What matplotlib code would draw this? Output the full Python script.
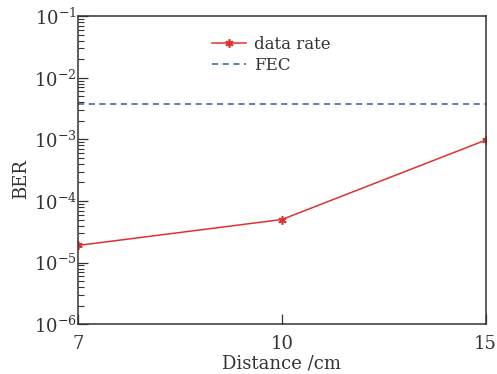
import numpy as np
import matplotlib.pyplot as plt

distance = ['7', '10', '15']
ber = [1.9e-5, 5.0e-5, 9.7e-4]
fec = 3.8e-3

plt.rcParams['font.family'] = 'DejaVu Serif'
plt.rcParams['mathtext.fontset'] = 'dejavuserif'

fig = plt.figure(figsize=(4.97, 3.74), dpi=100)
ax = fig.add_axes([0.157, 0.133, 0.820, 0.824])

x = np.arange(len(distance))
ax.plot(x, ber, color='#e03131', lw=1.1, marker=(6, 2, 0), ms=6, mew=1.2, label='data rate')
ax.axhline(fec, color='#2f5ea8', lw=1.1, ls=(0, (4, 3)), label='FEC')

ax.set_yscale('log')
ax.set_ylim(1e-6, 1e-1)
ax.set_xlim(0, len(distance) - 1)
ax.set_xticks(x)
ax.set_xticklabels(distance)
ax.set_yticks([1e-6, 1e-5, 1e-4, 1e-3, 1e-2, 1e-1])

ax.tick_params(which='both', direction='in', top=False, right=False, labelsize=13, colors='#333333')
ax.tick_params(which='major', length=7, width=0.9)
ax.tick_params(which='minor', length=4, width=0.8)
ax.tick_params(axis='x', pad=8)
ax.tick_params(axis='y', pad=1)
for s in ax.spines.values():
    s.set_color('#333333')
    s.set_linewidth(1.1)

ax.set_xlabel('Distance /cm', fontsize=13, color='#333333', labelpad=1)
ax.set_ylabel('BER', fontsize=13, color='#333333')
ax.yaxis.set_label_coords(-0.118, 0.47)
ax.legend(loc='upper center', bbox_to_anchor=(0.475, 0.985), frameon=False, fontsize=12,
          handlelength=2.0, handletextpad=0.5, labelspacing=0.25, labelcolor='#333333')

fig.savefig('out.png')
